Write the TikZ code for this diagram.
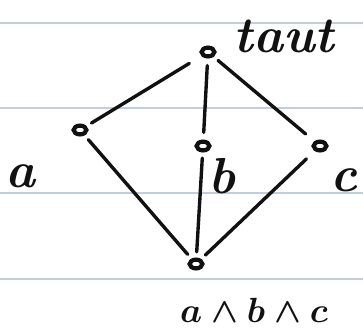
\documentclass[tikz,border=0pt]{standalone}
\usepackage{amsmath,amssymb}
\usetikzlibrary{positioning,shapes.geometric}
\definecolor{Rule}{HTML}{BFCEE0}
\definecolor{Ink}{HTML}{111111}

\begin{document}
\begin{tikzpicture}[x=0.025cm, y=-0.025cm, line cap=round,
    every node/.style={font=\fontsize{36}{40}\selectfont\bfseries\itshape\boldmath, text=Ink},
    pt/.style={draw=Ink, fill=white, ellipse, line width=3pt, minimum width=0.32cm, minimum height=0.22cm, inner sep=0pt},
    link/.style={draw=Ink, line width=2.4pt, shorten <=4pt, shorten >=4pt}]
  \useasboundingbox (0,0) rectangle (363,331);
  % ruled paper
  \foreach \y in {23,108,193,279}
    \draw[Rule, line width=0.8pt] (0,\y) -- (363,\y);
  % lattice points
  \node[pt] (top) at (208,52) {};
  \node[pt] (pa) at (80,130) {};
  \node[pt] (pb) at (203,146) {};
  \node[pt] (pc) at (320,146) {};
  \node[pt] (bot) at (196,264) {};
  % labels
  \node (ltop) at (284,36) {taut};
  \node (la) at (20,176) {a};
  \node (lb) at (222,176) {b};
  \node (lc) at (344,180) {c};
  \node (lbot) at (254,310) {$a\wedge b\wedge c$};
  % order relations
  \draw[link, shorten <=10pt] (top) -- (pa);
  \draw[link, shorten <=5pt, shorten >=5pt] (top) -- (pb);
  \draw[link, shorten >=8pt] (top) -- (pc);
  \draw[link] (pa) -- (bot);
  \draw[link] (pb) -- (bot);
  \draw[link, shorten <=8pt] (pc) -- (bot);
\end{tikzpicture}
\end{document}
